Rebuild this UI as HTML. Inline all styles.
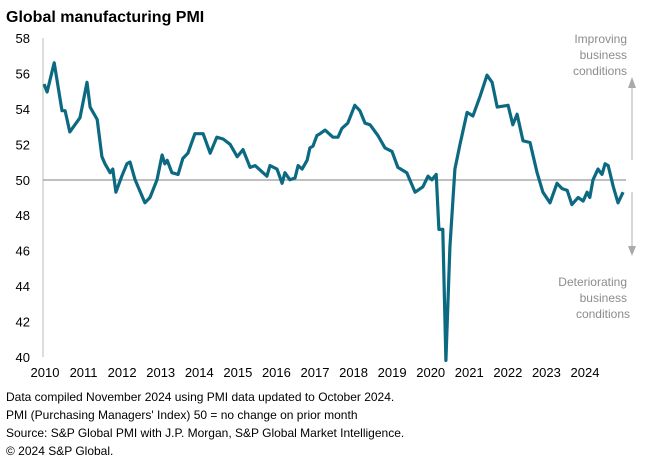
<!DOCTYPE html>
<html><head><meta charset="utf-8"><style>
body{margin:0;width:648px;height:469px;background:#fff;font-family:"Liberation Sans",Arial,sans-serif;overflow:hidden}
svg{position:absolute;left:0;top:0}
</style></head><body>
<svg width="648" height="469">
<text x="6" y="22" font-size="16" font-weight="bold" fill="#000">Global manufacturing PMI</text>
<g id="yaxis"></g><g id="xaxis"></g>
<line x1="43" y1="38" x2="43" y2="357" stroke="#bbb" stroke-width="1"/>
<line x1="43" y1="180" x2="626" y2="180" stroke="#999" stroke-width="1.2"/>
<path id="line" fill="none" stroke="#0b6a82" stroke-width="3.2" stroke-linejoin="round"/>
<g fill="#8c8c8c" font-size="12" text-anchor="end">
<text x="627" y="43">Improving</text><text x="627" y="59">business</text><text x="627" y="75">conditions</text></g>
<g fill="#8c8c8c" font-size="12" text-anchor="end">
<text x="627" y="286">Deteriorating</text><text x="627" y="302">business</text><text x="630" y="318">conditions</text></g>
<g stroke="#bbb" stroke-width="1.2">
<line x1="632" y1="86" x2="632" y2="160"/><line x1="632" y1="192" x2="632" y2="248"/></g>
<polygon points="628,88 636,88 632,77" fill="#aaa"/>
<polygon points="628,246 636,246 632,256" fill="#aaa"/>
<g font-size="12" fill="#000">
<text x="6" y="401">Data compiled November 2024 using PMI data updated to October 2024.</text>
<text x="6" y="419">PMI (Purchasing Managers' Index) 50 = no change on prior month</text>
<text x="6" y="437">Source: S&amp;P Global  PMI with J.P. Morgan, S&amp;P Global Market Intelligence.</text>
<text x="6" y="455">© 2024 S&amp;P Global.</text>
</g>
</svg>
<script>
const yTicks=[40,42,44,46,48,50,52,54,56,58];
const xYears=[2010,2011,2012,2013,2014,2015,2016,2017,2018,2019,2020,2021,2022,2023,2024];
const dates=[0,0.08,0.26,0.46,0.54,0.66,0.92,1.10,1.18,1.36,1.48,1.56,1.69,1.76,1.84,1.99,2.12,2.20,2.33,2.58,2.71,2.89,3.02,3.09,3.15,3.27,3.43,3.55,3.68,3.86,4.07,4.25,4.42,4.58,4.76,4.94,5.09,5.27,5.40,5.60,5.70,5.78,5.96,6.09,6.16,6.29,6.42,6.50,6.60,6.73,6.80,6.88,6.98,7.06,7.19,7.39,7.52,7.62,7.77,7.95,8.08,8.21,8.34,8.54,8.72,8.90,9.05,9.28,9.49,9.69,9.82,9.92,10.03,10.10,10.20,10.28,10.38,10.51,10.64,10.82,10.97,11.15,11.33,11.46,11.59,11.87,11.99,12.10,12.25,12.43,12.61,12.76,12.94,13.12,13.25,13.38,13.50,13.66,13.79,13.89,13.96,14.04,14.17,14.27,14.35,14.43,14.56,14.68,14.81];
const values=[55.4,54.95,56.6,53.9,53.9,52.7,53.5,55.5,54.1,53.4,51.3,50.9,50.4,50.6,49.3,50.2,50.9,51.0,50.0,48.7,49.0,50.0,51.4,50.9,51.1,50.4,50.3,51.2,51.5,52.6,52.6,51.5,52.4,52.3,52.0,51.3,51.7,50.7,50.8,50.4,50.2,50.8,50.6,49.8,50.4,50.0,50.1,50.8,50.6,51.1,51.8,51.9,52.5,52.6,52.8,52.4,52.4,52.9,53.2,54.2,53.9,53.2,53.1,52.5,51.8,51.6,50.7,50.4,49.3,49.6,50.2,50.0,50.3,47.2,47.2,39.8,46.2,50.6,52.0,53.8,53.6,54.7,55.9,55.5,54.1,54.2,53.1,53.7,52.2,52.1,50.4,49.3,48.7,49.8,49.5,49.4,48.6,49.0,48.8,49.3,49.0,50.0,50.6,50.3,50.9,50.8,49.6,48.7,49.3];
const NS='http://www.w3.org/2000/svg';
const x=d=>44+d*39.1;
const y=v=>38+(58-v)*17.72;
const ya=document.getElementById('yaxis');
yTicks.forEach(t=>{const e=document.createElementNS(NS,'text');
e.setAttribute('x',30);e.setAttribute('y',y(t)+5);e.setAttribute('text-anchor','end');e.setAttribute('font-size','13');


e.textContent=t;ya.appendChild(e);});
const xa=document.getElementById('xaxis');
xYears.forEach((yr,i)=>{const e=document.createElementNS(NS,'text');
e.setAttribute('x',45+(yr-2010)*38.57);e.setAttribute('y',377);e.setAttribute('text-anchor','middle');e.setAttribute('font-size','13');


e.textContent=yr;xa.appendChild(e);});
document.getElementById('line').setAttribute('d',dates.map((d,i)=>(i?'L':'M')+x(d).toFixed(1)+','+y(values[i]).toFixed(1)).join(''));
</script>
</body></html>
